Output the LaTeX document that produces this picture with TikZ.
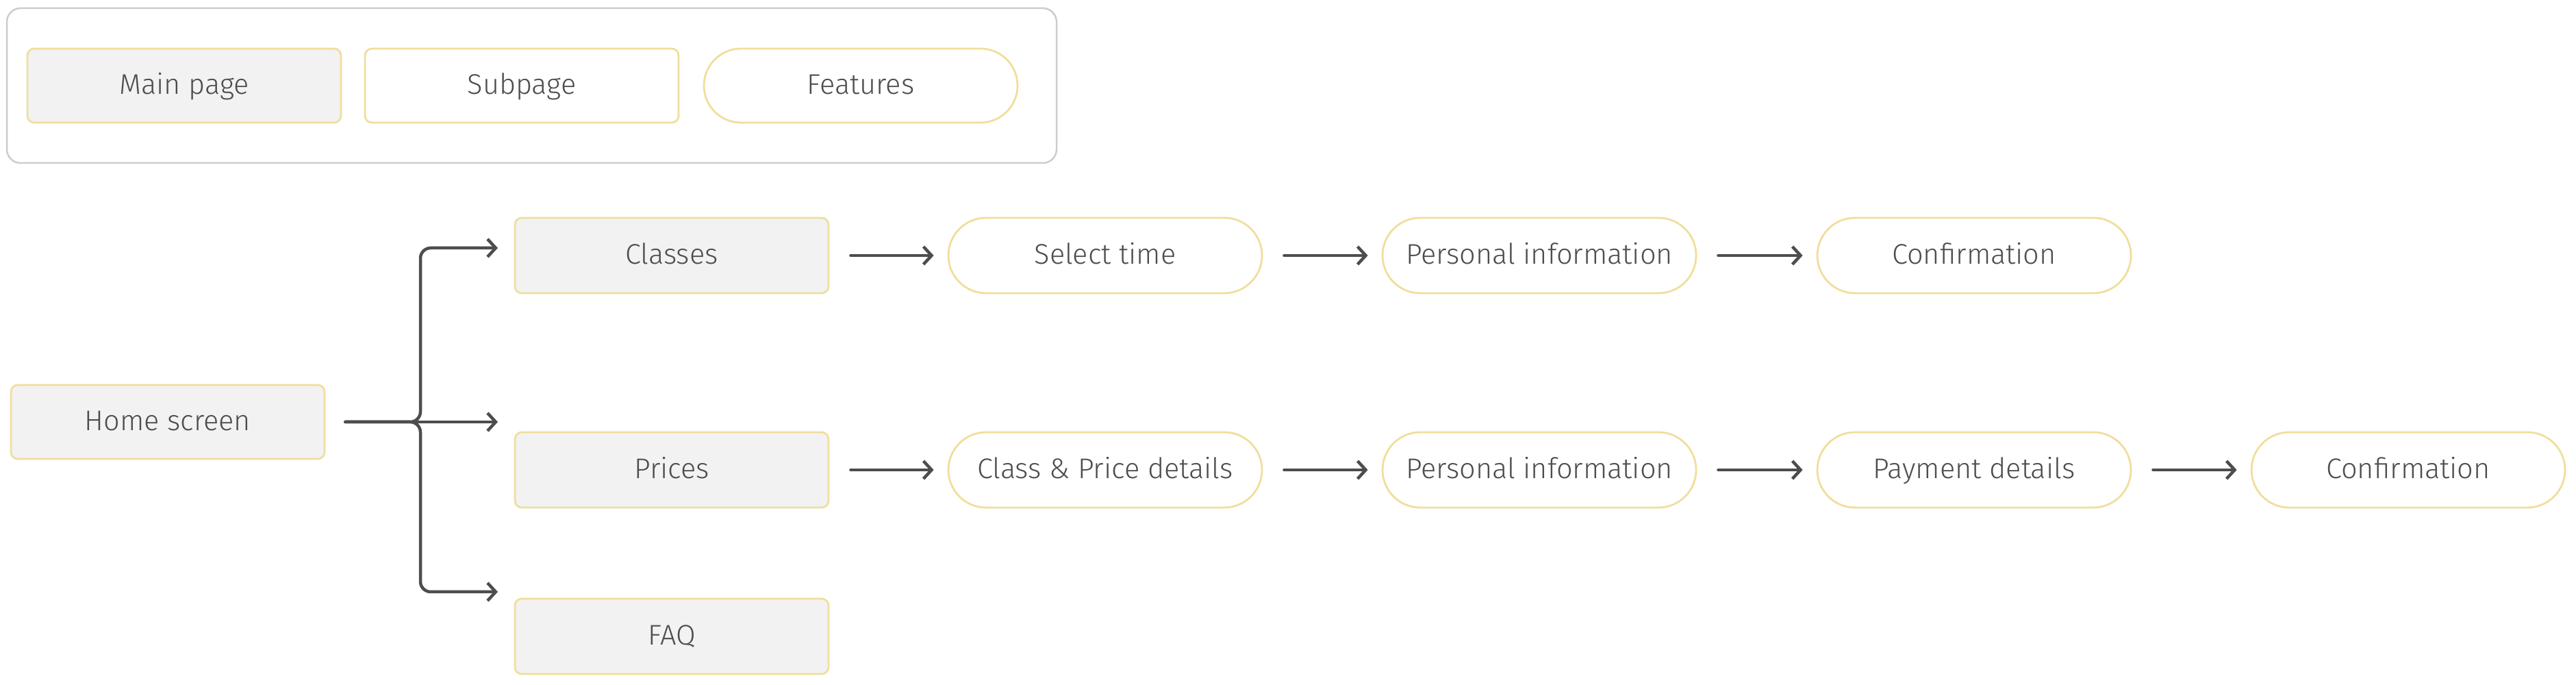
\documentclass[tikz,border=0pt]{standalone}
\usepackage{fontspec}
\setmainfont{Fira Sans}[UprightFont={* Light}]
\usetikzlibrary{arrows.meta}
\definecolor{boxline}{HTML}{F0DE9C}
\definecolor{boxfill}{HTML}{F2F2F2}
\definecolor{ink}{HTML}{4D4D4D}
\definecolor{keyline}{HTML}{CCCCCC}
\begin{document}
\begin{tikzpicture}[
    font=\fontsize{11.8}{14}\selectfont, text=ink,
    page/.style={draw=boxline, line width=0.028cm, fill=boxfill, rounded corners=0.1cm, minimum width=4.58cm, minimum height=1.1cm, inner sep=0, text height=0.69em, text depth=0pt},
    subpage/.style={page, fill=white},
    feature/.style={page, fill=white, rounded corners=0.55cm},
    flow/.style={draw=ink, line width=0.045cm, line cap=round, -{Straight Barb[length=0.12cm, width=0.26cm, line width=0.045cm]}}
]
    \useasboundingbox (0, 0) rectangle (37.62, -10);

    \draw[keyline, line width=0.025cm, rounded corners=0.2cm] (0.10, -0.12) rectangle (15.43, -2.38);
    \node[page, minimum height=1.08cm] (mk) at (2.69, -1.25) {Main page};
    \node[subpage, minimum height=1.08cm] (sk) at (7.62, -1.25) {Subpage};
    \node[feature, minimum height=1.08cm, rounded corners=0.54cm] (fk) at (12.57, -1.25) {Features};

    \node[page, minimum height=1.08cm] (home) at (2.45, -6.16) {Home screen};

    \node[page] (classes) at (9.81, -3.73) {Classes};
    \node[page] (prices) at (9.81, -6.86) {Prices};
    \node[page] (faq) at (9.81, -9.29) {FAQ};

    \node[feature] (time) at (16.14, -3.73) {Select time};
    \node[feature] (info1) at (22.48, -3.73) {Personal information};
    \node[feature] (conf1) at (28.83, -3.73) {Confirmation};

    \node[feature] (details) at (16.14, -6.86) {Class \& Price details};
    \node[feature] (info2) at (22.48, -6.86) {Personal information};
    \node[feature] (pay) at (28.83, -6.86) {Payment details};
    \node[feature] (conf2) at (35.17, -6.86) {Confirmation};

    \coordinate (hs) at ([xshift=0.29cm]home.east);
    \coordinate (t1) at (7.27, -3.62);
    \coordinate (t2) at (7.27, -6.16);
    \coordinate (t3) at (7.27, -8.64);

    \draw[flow] (hs) -- (t2); % home - prices
    \draw[flow, rounded corners=0.15cm] (hs) -| ([xshift=-1.13cm]t1) -- (t1); % home - classes
    \draw[flow, rounded corners=0.15cm] (hs) -| ([xshift=-1.13cm]t3) -- (t3); % home - faq

    \draw[flow] ([xshift=0.31cm]classes.east) -- ([xshift=-0.2cm]time.west); % classes - time
    \draw[flow] ([xshift=0.31cm]time.east) -- ([xshift=-0.2cm]info1.west); % time - info
    \draw[flow] ([xshift=0.31cm]info1.east) -- ([xshift=-0.2cm]conf1.west); % info - confirmation

    \draw[flow] ([xshift=0.31cm]prices.east) -- ([xshift=-0.2cm]details.west); % prices - details
    \draw[flow] ([xshift=0.31cm]details.east) -- ([xshift=-0.2cm]info2.west); % details - info
    \draw[flow] ([xshift=0.31cm]info2.east) -- ([xshift=-0.2cm]pay.west); % info - payment
    \draw[flow] ([xshift=0.31cm]pay.east) -- ([xshift=-0.2cm]conf2.west); % payment - confirmation
\end{tikzpicture}
\end{document}
